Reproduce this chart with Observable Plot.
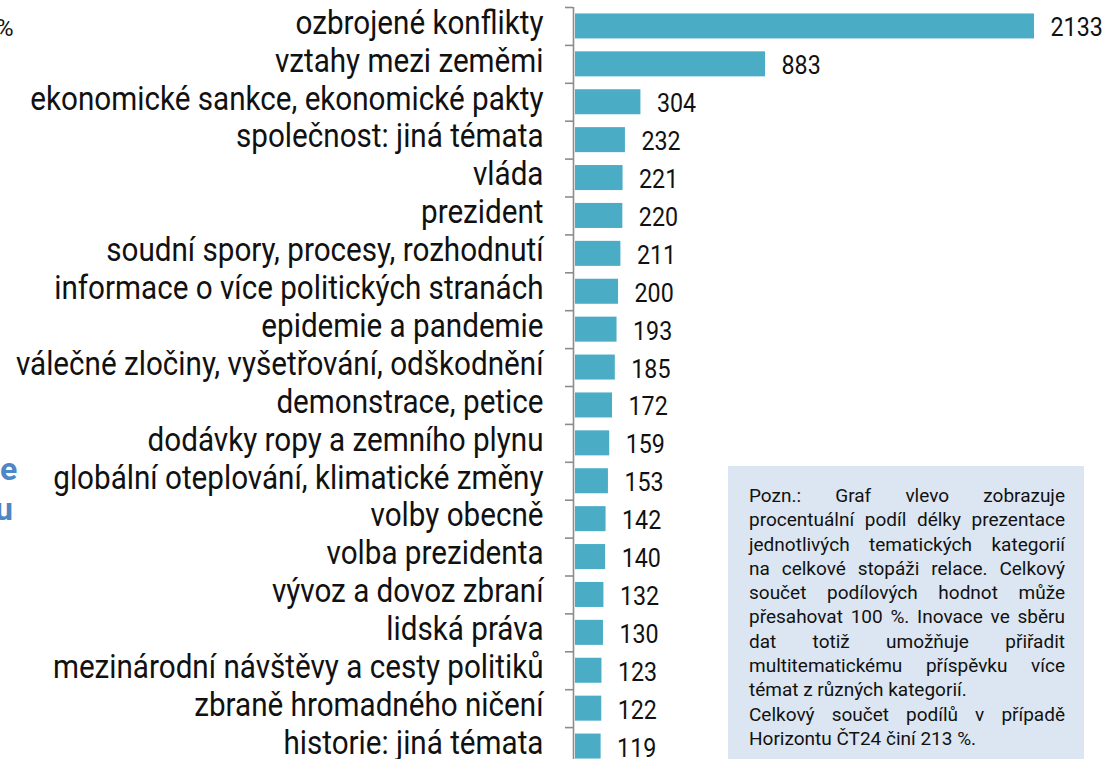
<!DOCTYPE html>
<html>
<head>
<meta charset="utf-8">
<script src="https://cdn.jsdelivr.net/npm/d3@7"></script>
<script src="https://cdn.jsdelivr.net/npm/@observablehq/plot@0.6"></script>
<style>
  html, body { margin: 0; padding: 0; width: 1118px; height: 759px; overflow: hidden; background: #fff; }
  body { position: relative; font-family: Roboto, "Liberation Sans", sans-serif; }
  #chart { position: absolute; left: 0; top: 0; }
  .frag { position: absolute; line-height: 1; white-space: nowrap; }
  #note { position: absolute; left: 728px; top: 466px; width: 356px; height: 300px; background: #dce6f2;
          box-sizing: border-box; padding: 18px 19px 0 21px; font-size: 19px; line-height: 24.3px; color: #111; }
  #note .j { text-align: justify; text-align-last: justify; white-space: nowrap; }
  #note .l { text-align: left; white-space: nowrap; }
</style>
</head>
<body>
<div id="chart"></div>
<div class="frag" style="left:-4px; top:16px; font-size:24px; color:#111;">%</div>
<div class="frag" style="left:0px; top:453px; font-size:32px; font-weight:bold; color:#4f86c6;">e</div>
<div class="frag" style="left:-5px; top:493px; font-size:32px; font-weight:bold; color:#4f86c6;">u</div>
<div id="note"></div>
<script>
const categories = [
  "ozbrojené konflikty",
  "vztahy mezi zeměmi",
  "ekonomické sankce, ekonomické pakty",
  "společnost: jiná témata",
  "vláda",
  "prezident",
  "soudní spory, procesy, rozhodnutí",
  "informace o více politických stranách",
  "epidemie a pandemie",
  "válečné zločiny, vyšetřování, odškodnění",
  "demonstrace, petice",
  "dodávky ropy a zemního plynu",
  "globální oteplování, klimatické změny",
  "volby obecně",
  "volba prezidenta",
  "vývoz a dovoz zbraní",
  "lidská práva",
  "mezinárodní návštěvy a cesty politiků",
  "zbraně hromadného ničení",
  "historie: jiná témata"
];
const values = [2133, 883, 304, 232, 221, 220, 211, 200, 193, 185, 172, 159, 153, 142, 140, 132, 130, 123, 122, 119];

const noteLines = [
  "Pozn.: Graf vlevo zobrazuje",
  "procentuální podíl délky prezentace",
  "jednotlivých tematických kategorií",
  "na celkové stopáži relace. Celkový",
  "součet podílových hodnot může",
  "přesahovat 100 %. Inovace ve sběru",
  "dat totiž umožňuje přiřadit",
  "multitematickému příspěvku více",
  "témat z různých kategorií.",
  "Celkový součet podílů v případě",
  "Horizontu ČT24 činí 213 %."
];
const noteLeftAligned = [8, 10];

const data = categories.map((c, i) => ({cat: c, value: values[i]}));

const W = 1118, H = 765, MT = 7, MB = 0;
const step = (H - MT - MB) / categories.length;
const FONT = 'Roboto, "Liberation Sans", sans-serif';

const chart = Plot.plot({
  width: W,
  height: H,
  marginTop: MT,
  marginBottom: MB,
  marginLeft: 575,
  marginRight: 5,
  x: {domain: [0, 2500], axis: null},
  y: {domain: categories, paddingInner: 0.34, paddingOuter: 0.17, round: false, axis: null},
  style: {fontFamily: FONT, background: "transparent", overflow: "visible", color: "#111"},
  marks: [
    Plot.barX(data, {x: "value", y: "cat", fill: "#4bacc6"}),
    Plot.ruleX([0], {dx: -2, stroke: "#8c8c8c", strokeWidth: 1.6}),
    Plot.axisY({tickSize: 8, tickFormat: () => "", dx: -2, dy: -step / 2, stroke: "#8c8c8c", strokeWidth: 1.6, label: null}),
    Plot.axisY({tickSize: 0, tickPadding: 32, fontSize: 33, fill: "#111", dy: -3.3, label: null}),
    Plot.text(data, {x: "value", y: "cat", text: d => String(d.value), dx: 16, dy: 2, textAnchor: "start", fontSize: 25, fill: "#111"})
  ]
});
document.getElementById("chart").appendChild(chart);

// narrow the glyphs horizontally (the reference uses a condensed face), anchored at each text's own x
const catSet = new Set(categories);
const valSet = new Set(values.map(String));
chart.querySelectorAll("text").forEach(t => {
  const s = t.textContent;
  let k = null;
  if (catSet.has(s)) k = 0.898;
  else if (valSet.has(s)) k = 0.93;
  if (k == null) return;
  const x = parseFloat(t.getAttribute("x")) || 0;
  const prev = t.getAttribute("transform") || "";
  t.setAttribute("transform", `${prev} translate(${x},0) scale(${k},1) translate(${-x},0)`);
});

const note = document.getElementById("note");
noteLines.forEach((t, i) => {
  const div = document.createElement("div");
  div.className = noteLeftAligned.includes(i) ? "l" : "j";
  div.textContent = t;
  note.appendChild(div);
});
</script>
</body>
</html>
